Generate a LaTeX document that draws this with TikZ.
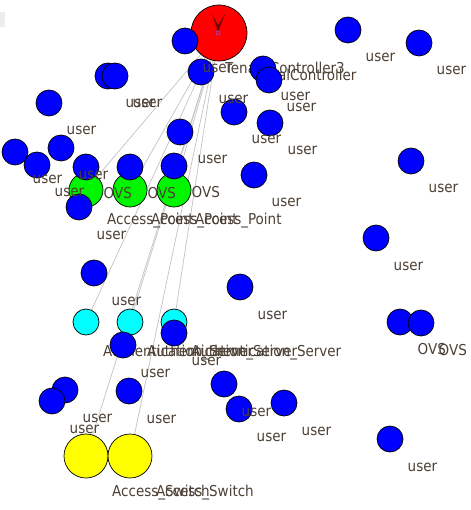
\documentclass[tikz,border=0pt]{standalone}
\usepackage{fontspec}
\setmainfont{DejaVu Sans Condensed}
\usetikzlibrary{backgrounds}
\definecolor{lblgray}{RGB}{77,64,52}
\definecolor{linkgray}{RGB}{195,195,195}
\definecolor{markred}{RGB}{120,0,0}
\definecolor{ringblue}{RGB}{110,90,255}
\definecolor{ctlred}{RGB}{255,0,0}
\definecolor{apgreen}{RGB}{0,245,0}
\definecolor{authcyan}{RGB}{0,255,255}
\definecolor{swyellow}{RGB}{255,255,0}
\definecolor{hostblue}{RGB}{0,0,255}

\begin{document}
\begin{tikzpicture}[x=1pt, y=-1pt,
    every node/.style={font=\fontsize{15}{18}\selectfont},
    nd/.style={circle, draw=black, line width=0.7pt, inner sep=0pt},
    ctrl/.style={nd, fill=ctlred, minimum size=56pt},
    ap/.style={nd, fill=apgreen, minimum size=34pt},
    auth/.style={nd, fill=authcyan, minimum size=26pt},
    sw/.style={nd, fill=swyellow, minimum size=44pt},
    host/.style={nd, fill=hostblue, minimum size=26pt},
    lbl/.style={anchor=base west, inner sep=0pt, text=lblgray},
    link/.style={draw=linkgray, line width=0.7pt}]
  \useasboundingbox (0,0) rectangle (470,510);
  \begin{scope}[on background layer]
    \fill[white] (0,0) rectangle (470,510);
  \end{scope}
  \fill[black!7] (0,12) rectangle (5,27);

  % controller
  \node[ctrl] (ctl) at (219,33) {};
  \fill[markred] (212,14) -- (218,32) -- (225,14) -- (218,25) -- cycle;
  \draw[ringblue, line width=0.6pt] (218,33) circle[radius=2];

  % access points, servers, switches
  \node[ap] (g1) at (86,190) {};
  \node[ap] (g2) at (130,190) {};
  \node[ap] (g3) at (174,190) {};
  \node[auth] (c1) at (86,322) {};
  \node[auth] (c2) at (130,322) {};
  \node[auth] (c3) at (174,322) {};
  \node[sw] (y1) at (86,456) {};
  \node[sw] (y2) at (130,456) {};

  \begin{scope}[on background layer]
    \foreach \t in {g1,g2,g3,c1,c2,c3,y1,y2}
      \draw[link] (ctl.center) -- (\t.center);
  \end{scope}

  \node[lbl] (lctl) at (225,74) {TenantController3};
  \node[lbl] (lloc) at (255,81) {LocalController};
  \foreach \t in {g1,g2,g3}
    \node[lbl] (l\t) at ([shift={(21,35)}]\t.center) {Access\_Point};
  \foreach \t in {c1,c2,c3}
    \node[lbl] (l\t) at ([shift={(17,34)}]\t.center) {Authentication\_Server};
  \foreach \t in {y1,y2}
    \node[lbl] (l\t) at ([shift={(26,40)}]\t.center) {Access\_Switch};

  % hosts and ovs
  \foreach \n/\px/\py in {1/185/41, 2/201/72, 3/263/69, 4/269/80, 5/348/30,
      6/419/43, 7/108/76, 8/115/76, 9/49/103, 10/234/112, 11/270/123,
      12/180/132, 13/15/152, 14/37/165, 15/61/148, 16/79/207, 17/254/175,
      18/411/161, 19/376/238, 20/94/273, 21/240/287, 22/174/333,
      23/123/345, 24/65/390, 25/52/401, 26/129/391, 27/224/384,
      28/239/409, 29/284/403, 30/390/439}
    \node[host] (u\n) at (\px,\py) {};
  \foreach \n/\px/\py in {1/86/167, 2/130/167, 3/174/166, 4/400/322, 5/421/323}
    \node[host] (o\n) at (\px,\py) {};

  \foreach \n in {1,...,30}
    \node[lbl] (lu\n) at ([shift={(17.5,32)}]u\n.center) {user};
  \foreach \n in {1,...,5}
    \node[lbl] (lo\n) at ([shift={(17.5,32)}]o\n.center) {OVS};
\end{tikzpicture}
\end{document}
